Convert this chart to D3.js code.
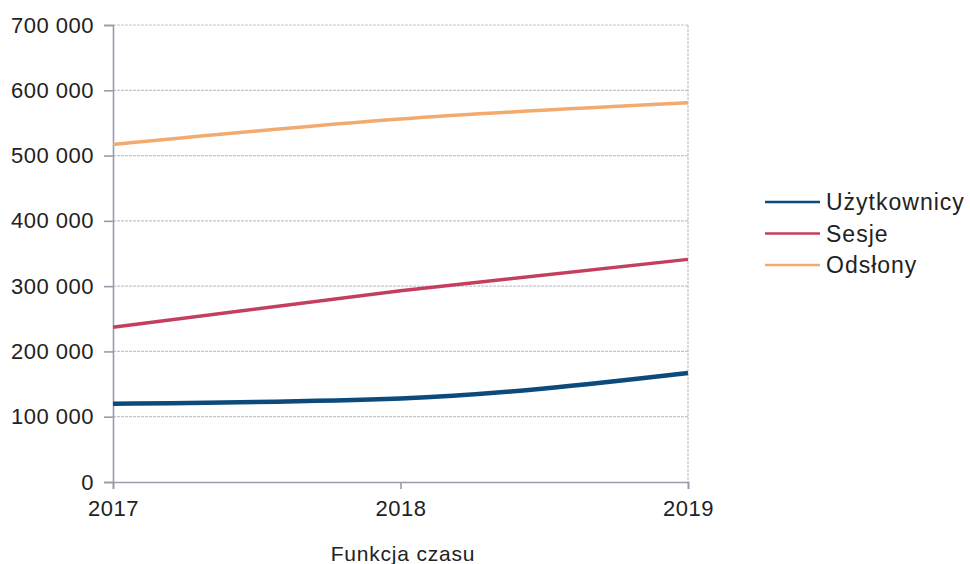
<!DOCTYPE html>
<html>
<head>
<meta charset="utf-8">
<script src="https://cdn.jsdelivr.net/npm/d3@7"></script>
<style>
  html, body { margin: 0; padding: 0; background: #fff; }
  svg { display: block; font-family: "Liberation Sans", Arial, sans-serif; }
</style>
</head>
<body>
<svg id="chart" width="970" height="564"></svg>
<script>
const years = [2017, 2018, 2019];
const seriesNames = ["Użytkownicy", "Sesje", "Odsłony"];
const uzytkownicy = [120000, 128000, 167000];
const sesje = [237000, 293000, 341000];
const odslony = [517000, 556000, 581000];
const yTicks = [0, 100000, 200000, 300000, 400000, 500000, 600000, 700000];
const xTitle = "Funkcja czasu";

const colors = ["#0b4a7b", "#c53f5c", "#f2aa6e"];
const widths = [4.5, 3.5, 3.5];
const seriesValues = [uzytkownicy, sesje, odslony];

const svg = d3.select("#chart");
const mLeft = 113, mRight = 688, mTop = 25, mBottom = 482;

const x = d3.scalePoint().domain(years).range([mLeft, mRight]);
const y = d3.scaleLinear().domain([0, 700000]).range([mBottom, mTop]);

const fmt = v => d3.format(",")(v).replace(/,/g, " ");

// horizontal gridlines
svg.append("g").selectAll("line").data(yTicks.filter(d => d > 0)).join("line")
  .attr("x1", mLeft).attr("x2", mRight)
  .attr("y1", d => y(d)).attr("y2", d => y(d))
  .attr("stroke", "#c4c4d0").attr("stroke-width", 1.2)
  .attr("stroke-dasharray", "3,1");

// right vertical border
svg.append("line")
  .attr("x1", mRight).attr("x2", mRight).attr("y1", mTop).attr("y2", mBottom)
  .attr("stroke", "#c4c4d0").attr("stroke-width", 1.2).attr("stroke-dasharray", "3,1");

// Y axis
const yAxis = d3.axisLeft(y).tickValues(yTicks).tickFormat(fmt).tickSize(9).tickPadding(10);
const gy = svg.append("g").attr("transform", `translate(${mLeft},0)`).call(yAxis);
gy.select(".domain").attr("stroke", "#9a9aae").attr("stroke-width", 1.6);
gy.selectAll(".tick line").attr("stroke", "#9a9aae").attr("stroke-width", 1.6);
gy.selectAll(".tick text").attr("fill", "#222").style("font-size", "22px")
  .style("letter-spacing", "0.5px")
  .style("font-family", "'Liberation Sans', Arial, sans-serif");

// X axis
const xAxis = d3.axisBottom(x).tickSize(7).tickPadding(11).tickFormat(d3.format("d"));
const gx = svg.append("g").attr("transform", `translate(0,${mBottom})`).call(xAxis);
gx.select(".domain").attr("stroke", "#9a9aae").attr("stroke-width", 1.6);
gx.selectAll(".tick line").attr("stroke", "#9a9aae").attr("stroke-width", 1.6);
gx.selectAll(".tick text").attr("fill", "#222").style("font-size", "22px")
  .style("letter-spacing", "0.5px")
  .style("font-family", "'Liberation Sans', Arial, sans-serif");

// X title
svg.append("text").attr("x", 403).attr("y", 561).attr("text-anchor", "middle")
  .attr("fill", "#222").style("font-size", "21px").style("letter-spacing", "0.8px").text(xTitle);

// lines
const line = d3.line().x((d, i) => x(years[i])).y(d => y(d)).curve(d3.curveMonotoneX);
seriesValues.forEach((vals, k) => {
  svg.append("path").datum(vals)
    .attr("fill", "none").attr("stroke", colors[k]).attr("stroke-width", widths[k])
    .attr("stroke-linecap", "butt").attr("d", line);
});

// legend
const lg = svg.append("g").attr("transform", "translate(765,202)");
seriesNames.forEach((name, k) => {
  const row = lg.append("g").attr("transform", `translate(0,${k * 31.5})`);
  row.append("line").attr("x1", 0).attr("x2", 55).attr("y1", 0).attr("y2", 0)
    .attr("stroke", colors[k]).attr("stroke-width", 2.5);
  row.append("text").attr("x", 61).attr("y", 0).attr("dy", "0.35em")
    .attr("fill", "#222").style("font-size", "23px").style("letter-spacing", "1px").text(name);
});
</script>
</body>
</html>
